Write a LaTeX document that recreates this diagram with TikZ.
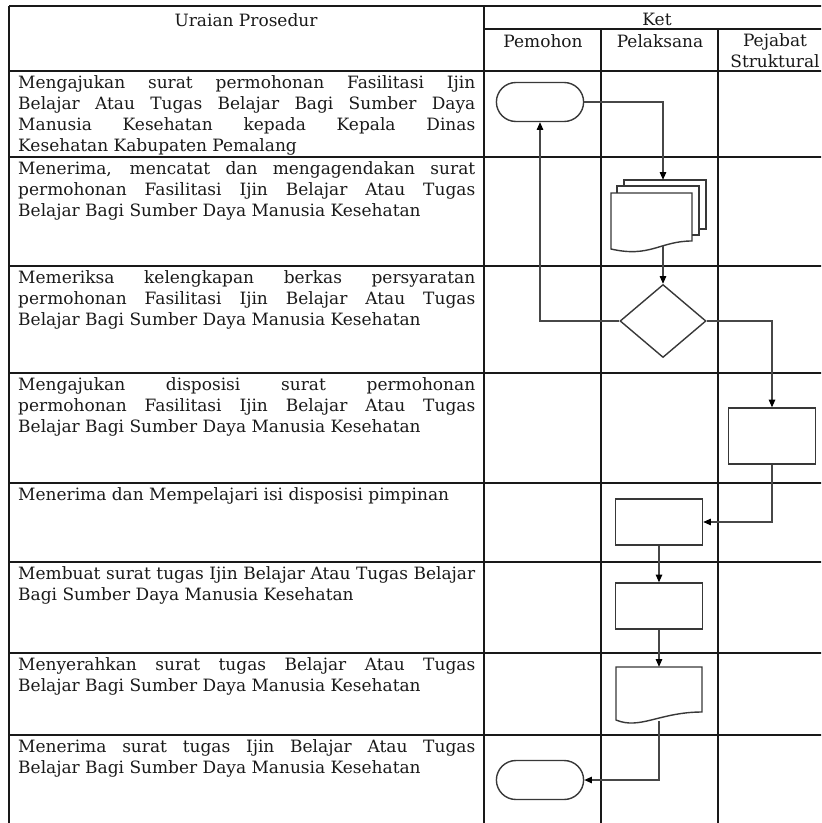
\documentclass[tikz,border=0pt]{standalone}
\usepackage{fontspec}
\setmainfont{DejaVu Serif}
\usepackage{tikz}
\usetikzlibrary{arrows.meta,shapes.geometric,shapes.misc}

\tikzset{
  garis/.style={line width=1.1pt, draw=black!90},
  garistebal/.style={line width=2.4pt, draw=black!90},
  teks/.style={font=\fontsize{14.5}{17.9}\selectfont, inner sep=0pt, text=black!90},
  uraian/.style={teks, anchor=north west, text width=13.71cm, align=justify},
  terminal/.style={rounded rectangle, draw=black!78, line width=1.2pt, minimum width=2.85cm, minimum height=1.17cm},
  proses/.style={rectangle, draw=black!78, line width=1.2pt, minimum width=2.61cm, minimum height=1.38cm},
  putusan/.style={diamond, draw=black!78, line width=1.2pt, minimum width=2.58cm, minimum height=2.19cm, inner sep=0pt},
  dokumen/.style={rectangle, draw=none, inner sep=0pt},
  bentuk/.style={draw=black!78, line width=1.2pt},
  alur/.style={draw=black!72, line width=0.95pt, -{Triangle[length=6.5pt,width=5.5pt,color=black]}}
}

\begin{document}
\begin{tikzpicture}[x=0.03cm, y=-0.03cm]
        \useasboundingbox (0,0) rectangle (821,823);
        \clip (0,0) rectangle (821,823);

        \draw[garistebal] (9,6) -- (831,6);
        \draw[garistebal] (9,6) -- (9,830);
        \draw[garis] (484,6) -- (484,830);
        \draw[garis] (484,29) -- (831,29);
        \draw[garis] (601,29) -- (601,830);
        \draw[garis] (718,29) -- (718,830);
        \draw[garis] (9,71) -- (831,71);
        \draw[garistebal] (9,157) -- (831,157);
        \draw[garis] (9,266) -- (831,266);
        \draw[garis] (9,373) -- (831,373);
        \draw[garistebal] (9,483) -- (831,483);
        \draw[garis] (9,562) -- (831,562);
        \draw[garis] (9,653) -- (831,653);
        \draw[garis] (9,735) -- (831,735);

        \node [teks] (judul) at (246,20) {Uraian Prosedur};
        \node [teks] (ket) at (657,19) {Ket};
        \node [teks] (pemohon) at (543,41) {Pemohon};
        \node [teks] (pelaksana) at (660,41) {Pelaksana};
        \node [teks, align=center] (pejabat) at (775,51) {Pejabat\\Struktural};

        \node [uraian] (u1) at (18,75) {Mengajukan surat permohonan Fasilitasi Ijin\linebreak Belajar Atau Tugas Belajar Bagi Sumber Daya\linebreak Manusia Kesehatan kepada Kepala Dinas\linebreak Kesehatan Kabupaten Pemalang};
        \node [uraian] (u2) at (18,161) {Menerima, mencatat dan mengagendakan surat\linebreak permohonan Fasilitasi Ijin Belajar Atau Tugas\linebreak Belajar Bagi Sumber Daya Manusia Kesehatan};
        \node [uraian] (u3) at (18,270) {Memeriksa kelengkapan berkas persyaratan\linebreak permohonan Fasilitasi Ijin Belajar Atau Tugas\linebreak Belajar Bagi Sumber Daya Manusia Kesehatan};
        \node [uraian] (u4) at (18,377) {Mengajukan disposisi surat permohonan\linebreak permohonan Fasilitasi Ijin Belajar Atau Tugas\linebreak Belajar Bagi Sumber Daya Manusia Kesehatan};
        \node [uraian] (u5) at (18,487) {Menerima dan Mempelajari isi disposisi pimpinan};
        \node [uraian] (u6) at (18,566) {Membuat surat tugas Ijin Belajar Atau Tugas Belajar\linebreak Bagi Sumber Daya Manusia Kesehatan};
        \node [uraian] (u7) at (18,657) {Menyerahkan surat tugas Belajar Atau Tugas\linebreak Belajar Bagi Sumber Daya Manusia Kesehatan};
        \node [uraian] (u8) at (18,739) {Menerima surat tugas Ijin Belajar Atau Tugas\linebreak Belajar Bagi Sumber Daya Manusia Kesehatan};

        \node [terminal] (mulai) at (540,102) {};
        \node [dokumen, minimum width=3.12cm, minimum height=1.98cm] (tumpuk) at (663,213) {};
        \draw[bentuk] (624,186) -- (624,180) -- (706,180) -- (706,229) -- (699,229);
        \draw[bentuk] (617,193) -- (617,186) -- (699,186) -- (699,235) -- (692,235);
        \draw[bentuk] (611,193) -- (692,193) -- (692,241) .. controls (660,241) and (650,258) .. (611,249) -- cycle;
        \node [putusan] (periksa) at (663,321) {};
        \node [proses, minimum height=1.68cm] (disposisi) at (772,436) {};
        \node [proses] (pelajari) at (659,522) {};
        \node [proses] (buatsurat) at (659,606) {};
        \node [dokumen, minimum width=2.58cm, minimum height=1.62cm] (srt) at (659,694) {};
        \draw[bentuk] (616,667) -- (702,667) -- (702,712) .. controls (660,712) and (640,730) .. (616,720) -- cycle;
        \node [terminal] (selesai) at (540,780) {};

        \draw[alur] (mulai) -| (tumpuk);
        \draw[alur] (tumpuk) -- (periksa);
        \draw[alur] (periksa) -| (mulai);
        \draw[alur] (periksa) -| (disposisi);
        \draw[alur] (disposisi) |- (pelajari);
        \draw[alur] (pelajari) -- (buatsurat);
        \draw[alur] (buatsurat) -- (srt);
        \draw[alur] (srt) |- (selesai);

\end{tikzpicture}
\end{document}
